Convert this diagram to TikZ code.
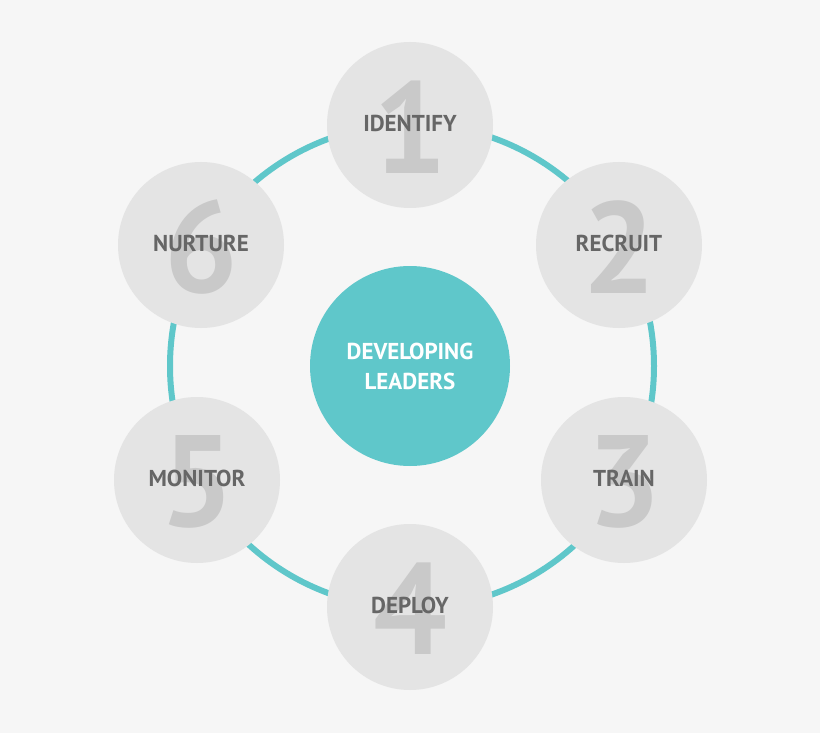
\documentclass[tikz,border=0pt]{standalone}
\usepackage{fontspec}
\setmainfont{PT Sans}
\usepackage{tikz}
\definecolor{bgcol}{HTML}{F6F6F6}
\definecolor{stepcol}{HTML}{E4E4E4}
\definecolor{numcol}{HTML}{C9C9C9}
\definecolor{txtcol}{HTML}{666666}
\definecolor{tealcol}{HTML}{5FC7CA}
\tikzset{
	stepcircle/.style={circle,fill=stepcol,minimum size=166pt,inner sep=0pt},
	stepnum/.style={text=numcol,font=\fontsize{130}{130}\selectfont\bfseries},
	steptext/.style={text=txtcol,font=\fontsize{23}{23}\selectfont\bfseries},
	hub/.style={circle,fill=tealcol,minimum size=200pt,inner sep=0pt,text=white,align=center,font=\fontsize{23}{30}\selectfont\bfseries}
}
\begin{document}
\begin{tikzpicture}[x=1pt,y=-1pt]
	\fill[bgcol] (0,0) rectangle (820,733);
	\useasboundingbox (0,0) rectangle (820,733);
	\draw[tealcol,line width=6pt] (412,366) circle (242);
	\node[hub] (hub) at (410,366) {DEVELOPING\\LEADERS};
	\foreach \x/\y/\n/\t/\name in {410/125/1/IDENTIFY/identify, 619/245/2/RECRUIT/recruit, 624/480/3/TRAIN/train, 410/607/4/DEPLOY/deploy, 197/480/5/MONITOR/monitor, 201/245/6/NURTURE/nurture}{
		\node[stepcircle] (\name) at (\x,\y) {};
		\node[stepnum] (\name num) at (\x,\y+2) {\n};
		\node[steptext] (\name txt) at (\x,\y-2) {\t};
	}
\end{tikzpicture}
\end{document}
